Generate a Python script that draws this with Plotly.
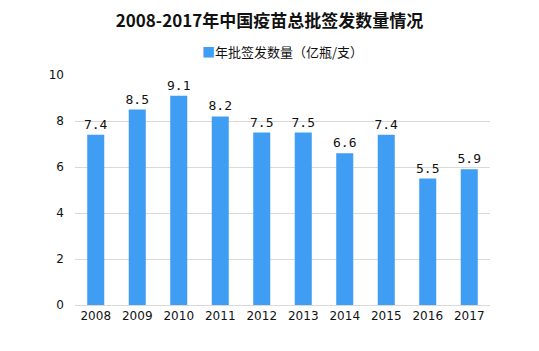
import plotly.graph_objects as go

years = ["2008", "2009", "2010", "2011", "2012", "2013", "2014", "2015", "2016", "2017"]
values = [7.4, 8.5, 9.1, 8.2, 7.5, 7.5, 6.6, 7.4, 5.5, 5.9]
value_labels = ["7.4", "8.5", "9.1", "8.2", "7.5", "7.5", "6.6", "7.4", "5.5", "5.9"]
tick_vals = [0, 2, 4, 6, 8, 10]
series_name = "年批签发数量（亿瓶/支）"

font_family = "Noto Sans CJK SC, DejaVu Sans, sans-serif"
bar_color = "#3F9DF3"

fig = go.Figure()
fig.add_trace(go.Bar(
    x=years, y=values, name=series_name,
    marker=dict(color=bar_color, line=dict(width=0)),
    text=value_labels, textposition="outside", constraintext="none",
    textfont=dict(size=13, color="#111111", family="DejaVu Sans Mono, monospace"),
    cliponaxis=False, showlegend=False,
))

fig.add_annotation(
    xref="paper", yref="paper", x=0.5, y=1.10, xanchor="center", yanchor="middle",
    text="<span style='color:%s'>■</span>%s" % (bar_color, series_name),
    showarrow=False, font=dict(size=13, color="#111111", family=font_family),
)

fig.update_layout(
    width=539, height=351,
    margin=dict(l=75, r=49, t=75, b=46),
    paper_bgcolor="white", plot_bgcolor="white",
    bargap=0.59,
    title=dict(text="<b>2008-2017年中国疫苗总批签发数量情况</b>", x=0.5, xanchor="center",
               y=0.94, yanchor="middle",
               font=dict(size=17, color="#111111", family=font_family)),
    showlegend=False,
    xaxis=dict(showline=True, linecolor="#D9D9D9", linewidth=1, ticks="",
               tickfont=dict(size=12, color="#111111", family="DejaVu Sans, sans-serif"),
               showgrid=False),
    yaxis=dict(range=[0, 10], tickvals=tick_vals, showgrid=True, gridcolor="#D9D9D9",
               gridwidth=1, zeroline=False, showline=False, ticks="",
               tickfont=dict(size=12, color="#111111", family="DejaVu Sans, sans-serif"),
               ticklabelstandoff=10),
)

fig.write_html("out.html")
